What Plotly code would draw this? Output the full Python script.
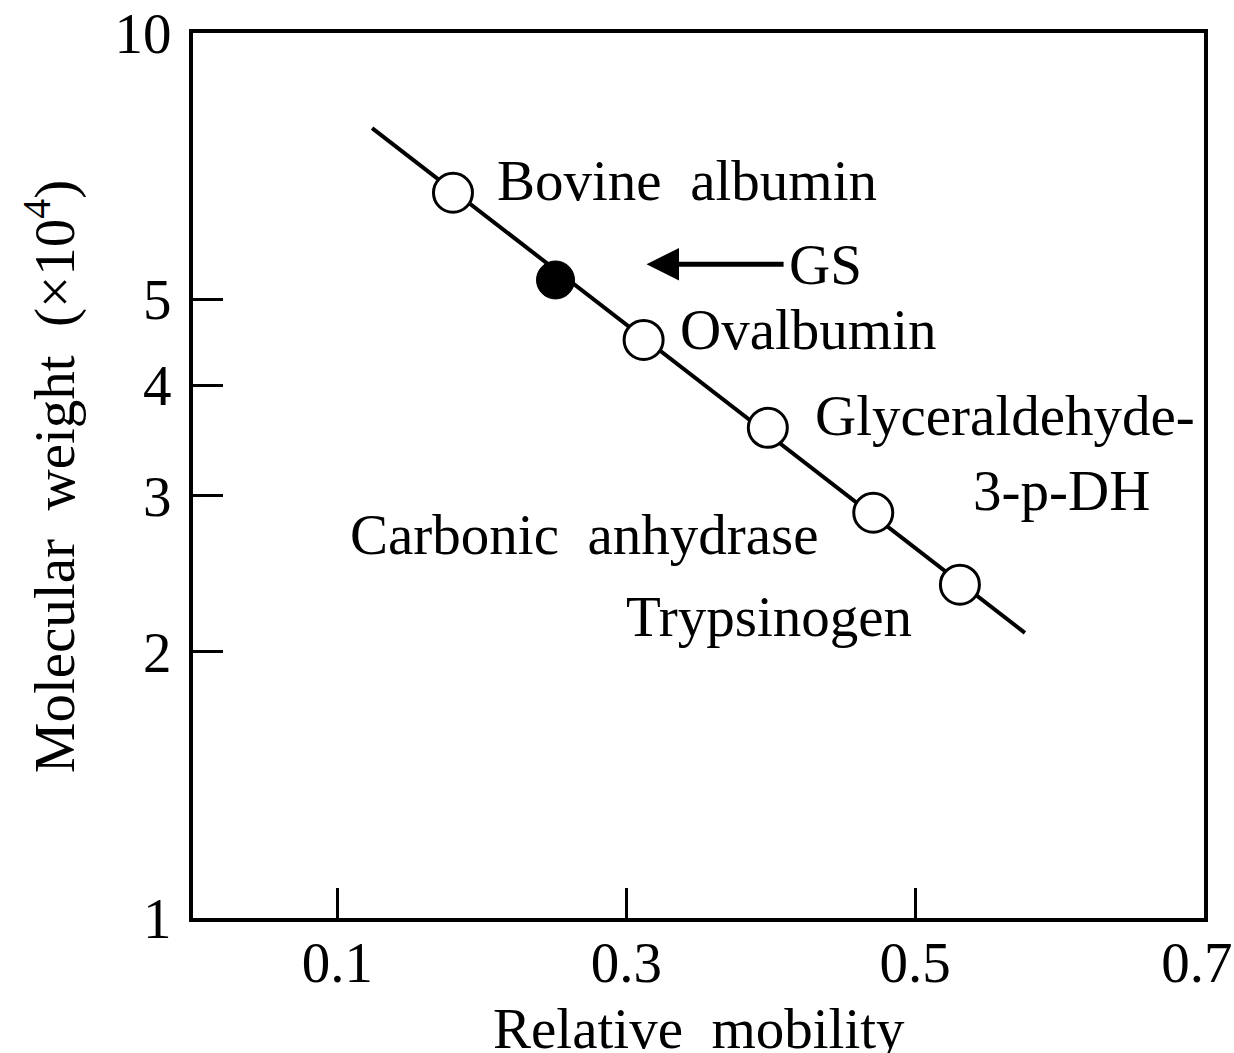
import numpy as np
import plotly.graph_objects as go

# ---- data ----
standard_names = ["Bovine albumin", "Ovalbumin", "Glyceraldehyde-3-p-DH",
                  "Carbonic anhydrase", "Trypsinogen"]
standard_mobility = [0.180, 0.312, 0.398, 0.471, 0.531]
standard_mw = [6.6, 4.5, 3.58, 2.87, 2.38]   # x10^4

gs_mobility = [0.251]
gs_mw = [5.26]

fit_mobility = [0.124, 0.576]
fit_mw = [7.81, 2.10]

x_ticks = [0.1, 0.3, 0.5, 0.7]
x_tick_text = ["0.1", "0.3", "0.5", "0.7\u00a0"]
y_ticks = [1, 2, 3, 4, 5, 10]

FONT = "Liberation Serif, Times New Roman, serif"
FS = 57

fig = go.Figure()
fig.add_trace(go.Scatter(x=fit_mobility, y=fit_mw, mode="lines",
                         line=dict(color="black", width=4), showlegend=False))
fig.add_trace(go.Scatter(x=standard_mobility, y=standard_mw, mode="markers",
                         marker=dict(symbol="circle", size=39, color="white",
                                     line=dict(color="black", width=3)),
                         showlegend=False, text=standard_names))
fig.add_trace(go.Scatter(x=gs_mobility, y=gs_mw, mode="markers",
                         marker=dict(symbol="circle", size=38, color="black",
                                     line=dict(color="black", width=1)),
                         showlegend=False))

def lg(v):
    return float(np.log10(v))

labels = [
    ("Bovine\u00a0 albumin", 0.342, 6.82),
    ("Ovalbumin", 0.426, 4.62),
    ("Glyceraldehyde-", 0.562, 3.70),
    ("3-p-DH", 0.601, 3.04),
    ("Carbonic\u00a0 anhydrase", 0.271, 2.71),
    ("Trypsinogen", 0.399, 2.19),
]
ann = []
for t, x, y in labels:
    ann.append(dict(x=x, y=lg(y), xref="x", yref="y", text=t, showarrow=False,
                    xanchor="center", yanchor="middle",
                    font=dict(family=FONT, size=FS, color="black")))

# GS arrow + label
ann.append(dict(x=0.314, y=lg(5.48), xref="x", yref="y",
                ax=0.438, ay=lg(5.48), axref="x", ayref="y",
                text="GS", showarrow=True, arrowhead=2, arrowsize=1.3,
                arrowwidth=5, arrowcolor="black", standoff=0, startstandoff=4,
                font=dict(family=FONT, size=FS, color="black")))

# axis titles
ann.append(dict(x=0.5, y=0, xref="paper", yref="paper", yshift=-110,
                text="Relative\u00a0 mobility", showarrow=False,
                xanchor="center", yanchor="middle",
                font=dict(family=FONT, size=FS, color="black")))
ann.append(dict(x=0, y=0.498, xref="paper", yref="paper", xshift=-143,
                text="Molecular\u00a0 weight\u00a0 (\u00d710<sup>4</sup>)",
                showarrow=False, textangle=-90,
                xanchor="center", yanchor="middle",
                font=dict(family=FONT, size=FS, color="black")))

fig.update_layout(
    width=1234, height=1053,
    margin=dict(l=193, r=30, t=33, b=135, autoexpand=False),
    paper_bgcolor="white", plot_bgcolor="white",
    annotations=ann,
    xaxis=dict(range=[0, 0.70001], tickvals=x_ticks, ticktext=x_tick_text,
               showgrid=False, zeroline=False, showline=True, linewidth=4,
               linecolor="black", mirror=True, ticks="inside", ticklen=30,
               tickwidth=3, tickcolor="black", ticklabelstandoff=-8,
               ticklabeloverflow="allow", automargin=False,
               tickfont=dict(family=FONT, size=FS, color="black")),
    yaxis=dict(type="log", range=[-0.0001, 1.0001], tickvals=y_ticks,
               ticktext=[str(v) for v in y_ticks],
               showgrid=False, zeroline=False, showline=True, linewidth=4,
               linecolor="black", mirror=True, ticks="inside", ticklen=30,
               tickwidth=3, tickcolor="black", ticklabelstandoff=6,
               ticklabeloverflow="allow", automargin=False,
               tickfont=dict(family=FONT, size=FS, color="black")),
)

fig.write_html("out.html", config={"displayModeBar": False},
               post_script="document.body.style.margin='0';document.body.style.overflow='hidden';")
